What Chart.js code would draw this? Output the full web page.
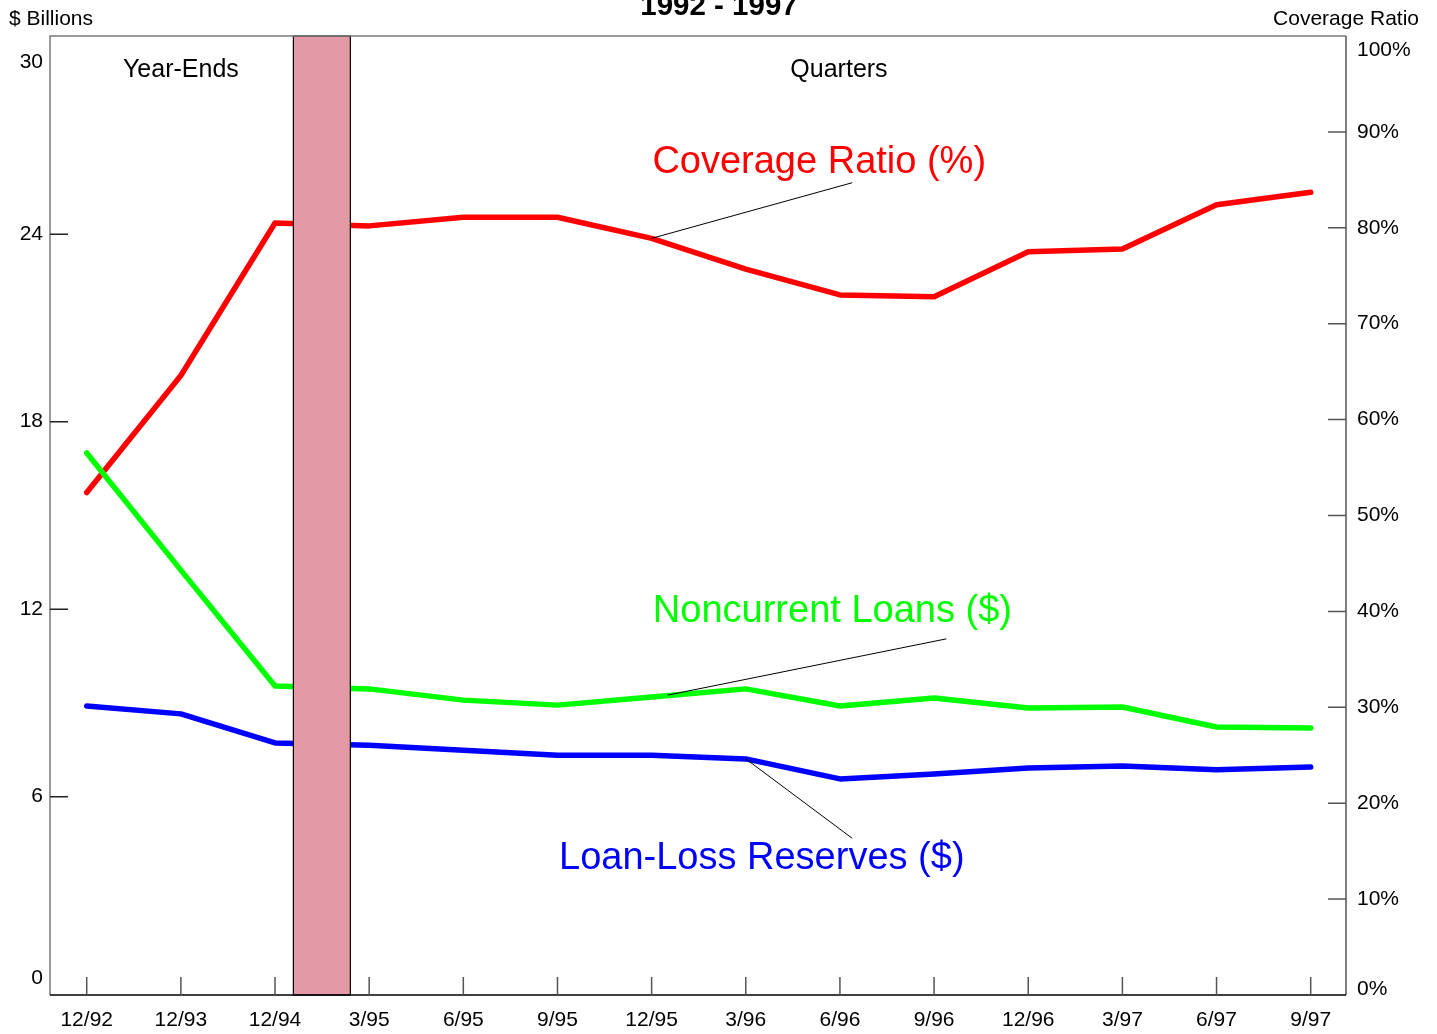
<!DOCTYPE html>
<html>
<head>
<meta charset="utf-8">
<title>Coverage Ratio 1992 - 1997</title>
<script src="https://cdn.jsdelivr.net/npm/chart.js@4/dist/chart.umd.min.js"></script>
<style>
  body { margin: 0; background: #fff; }
  #wrap { width: 1437px; height: 1034px; position: relative; }
</style>
</head>
<body>
<div id="wrap"><canvas id="chart"></canvas></div>
<script>
const periods = ["12/92", "12/93", "12/94", "3/95", "6/95", "9/95", "12/95",
  "3/96", "6/96", "9/96", "12/96", "3/97", "6/97", "9/97"];

// $ billions
const noncurrentLoans = [17.0, 13.25, 9.54, 9.45, 9.09, 8.93, 9.19,
  9.45, 8.90, 9.16, 8.84, 8.87, 8.23, 8.20];
const loanLossReserves = [8.90, 8.65, 7.72, 7.65, 7.49, 7.33, 7.33,
  7.21, 6.57, 6.73, 6.92, 6.98, 6.86, 6.95];
// percent
const coverageRatio = [52.4, 64.6, 80.5, 80.2, 81.1, 81.1, 78.9,
  75.7, 73.0, 72.8, 77.5, 77.8, 82.4, 83.7];

const billionTicks = [0, 6, 12, 18, 24, 30];
const ratioTicks = [0, 10, 20, 30, 40, 50, 60, 70, 80, 90, 100];

const FONT = '"Liberation Sans", Arial, sans-serif';

// shaded break between the year-end and quarterly points
const breakFrom = 2.195;
const breakTo = 2.80;

const toPoints = (arr) => arr.map((v, i) => ({ x: i, y: v }));

const callouts = [
  { text: "Coverage Ratio (%)", color: "#ff0000", size: 38, axis: "yR",
    label: [7.78, 86.8], from: [8.13, 84.7], to: [6, coverageRatio[6]] },
  { text: "Noncurrent Loans ($)", color: "#00ff00", size: 38, axis: "y",
    label: [7.92, 11.91], from: [9.13, 11.05], to: [6.17, 9.25] },
  { text: "Loan-Loss Reserves ($)", color: "#0000ff", size: 38, axis: "y",
    label: [7.17, 4.01], from: [8.13, 4.67], to: [7, loanLossReserves[7]] },
];

function clamp(v, lo, hi) { return Math.max(lo, Math.min(hi, v)); }

const decorations = {
  id: "decorations",
  afterDatasetsDraw(chart) {
    const { ctx, chartArea: a, scales } = chart;
    const x0 = scales.x.getPixelForValue(breakFrom);
    const x1 = scales.x.getPixelForValue(breakTo);
    ctx.save();
    ctx.fillStyle = "#e39aa6";
    ctx.fillRect(x0, a.top, x1 - x0, a.bottom - a.top);
    ctx.strokeStyle = "#000";
    ctx.lineWidth = 1.2;
    ctx.strokeRect(x0, a.top, x1 - x0, a.bottom - a.top);
    ctx.restore();
  },
  afterDraw(chart) {
    const { ctx, chartArea: a, scales } = chart;
    const x = scales.x, yL = scales.y, yR = scales.yR;
    ctx.save();

    // frame
    ctx.lineWidth = 1.5;
    ctx.strokeStyle = "#7a7a7a";
    ctx.beginPath();
    ctx.moveTo(a.left, a.bottom);
    ctx.lineTo(a.left, a.top);
    ctx.lineTo(a.right, a.top);
    ctx.stroke();
    ctx.strokeStyle = "#555";
    ctx.beginPath();
    ctx.moveTo(a.right, a.top);
    ctx.lineTo(a.right, a.bottom);
    ctx.stroke();
    ctx.strokeStyle = "#000";
    ctx.beginPath();
    ctx.moveTo(a.left, a.bottom);
    ctx.lineTo(a.right, a.bottom);
    ctx.stroke();

    // inward tick marks
    ctx.lineWidth = 1.5;
    ctx.strokeStyle = "#555";
    ctx.beginPath();
    periods.forEach((p, i) => {
      const px = x.getPixelForValue(i);
      ctx.moveTo(px, a.bottom - 18);
      ctx.lineTo(px, a.bottom);
    });
    ratioTicks.slice(1, -1).forEach((v) => {
      const py = yR.getPixelForValue(v);
      ctx.moveTo(a.right - 18, py);
      ctx.lineTo(a.right, py);
    });
    ctx.stroke();
    ctx.strokeStyle = "#222";
    ctx.beginPath();
    billionTicks.slice(1, -1).forEach((v) => {
      const py = yL.getPixelForValue(v);
      ctx.moveTo(a.left, py);
      ctx.lineTo(a.left + 18, py);
    });
    ctx.stroke();

    // tick labels
    ctx.fillStyle = "#000";
    ctx.font = "21px " + FONT;
    ctx.textBaseline = "middle";
    ctx.textAlign = "center";
    periods.forEach((p, i) => {
      ctx.fillText(p, x.getPixelForValue(i), a.bottom + 25);
    });
    ctx.textAlign = "right";
    billionTicks.forEach((v) => {
      const py = clamp(yL.getPixelForValue(v), a.top + 26, a.bottom - 17);
      ctx.fillText(String(v), a.left - 7, py);
    });
    ctx.textAlign = "left";
    ratioTicks.forEach((v) => {
      const py = clamp(yR.getPixelForValue(v), a.top + 14, a.bottom - 6);
      ctx.fillText(v + "%", a.right + 11, py);
    });

    // axis captions and title
    ctx.textBaseline = "alphabetic";
    ctx.textAlign = "left";
    ctx.fillText("$ Billions", 9, 25);
    ctx.textAlign = "right";
    ctx.fillText("Coverage Ratio", 1419, 25);
    ctx.textAlign = "center";
    ctx.font = "bold 29.5px " + FONT;
    ctx.fillText("1992 - 1997", 719, 15);

    // section headings
    ctx.font = "25px " + FONT;
    ctx.textBaseline = "middle";
    ctx.fillText("Year-Ends", x.getPixelForValue(1), a.top + 34);
    ctx.fillText("Quarters", x.getPixelForValue(7.99), a.top + 34);

    // series callouts with leader lines
    callouts.forEach((c) => {
      const ys = scales[c.axis];
      ctx.strokeStyle = "#000";
      ctx.lineWidth = 1;
      ctx.beginPath();
      ctx.moveTo(x.getPixelForValue(c.from[0]), ys.getPixelForValue(c.from[1]));
      ctx.lineTo(x.getPixelForValue(c.to[0]), ys.getPixelForValue(c.to[1]));
      ctx.stroke();
      ctx.fillStyle = c.color;
      ctx.font = c.size + "px " + FONT;
      ctx.fillText(c.text, x.getPixelForValue(c.label[0]), ys.getPixelForValue(c.label[1]));
    });

    ctx.restore();
  },
};

const lineStyle = {
  borderWidth: 5.5,
  pointRadius: 0,
  tension: 0,
  borderCapStyle: "round",
  borderJoinStyle: "round",
  fill: false,
};

new Chart(document.getElementById("chart"), {
  type: "line",
  data: {
    datasets: [
      { label: "Noncurrent Loans ($)", data: toPoints(noncurrentLoans),
        borderColor: "#00ff00", yAxisID: "y", ...lineStyle },
      { label: "Loan-Loss Reserves ($)", data: toPoints(loanLossReserves),
        borderColor: "#0000ff", yAxisID: "y", ...lineStyle },
      { label: "Coverage Ratio (%)", data: toPoints(coverageRatio),
        borderColor: "#ff0000", yAxisID: "yR", ...lineStyle },
    ],
  },
  options: {
    responsive: true,
    maintainAspectRatio: false,
    animation: false,
    layout: { padding: { left: 50, right: 91, top: 36, bottom: 39 } },
    plugins: { legend: { display: false }, tooltip: { enabled: false } },
    scales: {
      x: { type: "linear", min: -0.39, max: 13.375, display: false },
      y: { type: "linear", min: -0.345, max: 30.34, display: false },
      yR: { type: "linear", min: 0, max: 100, display: false, position: "right" },
    },
  },
  plugins: [decorations],
});
</script>
</body>
</html>
